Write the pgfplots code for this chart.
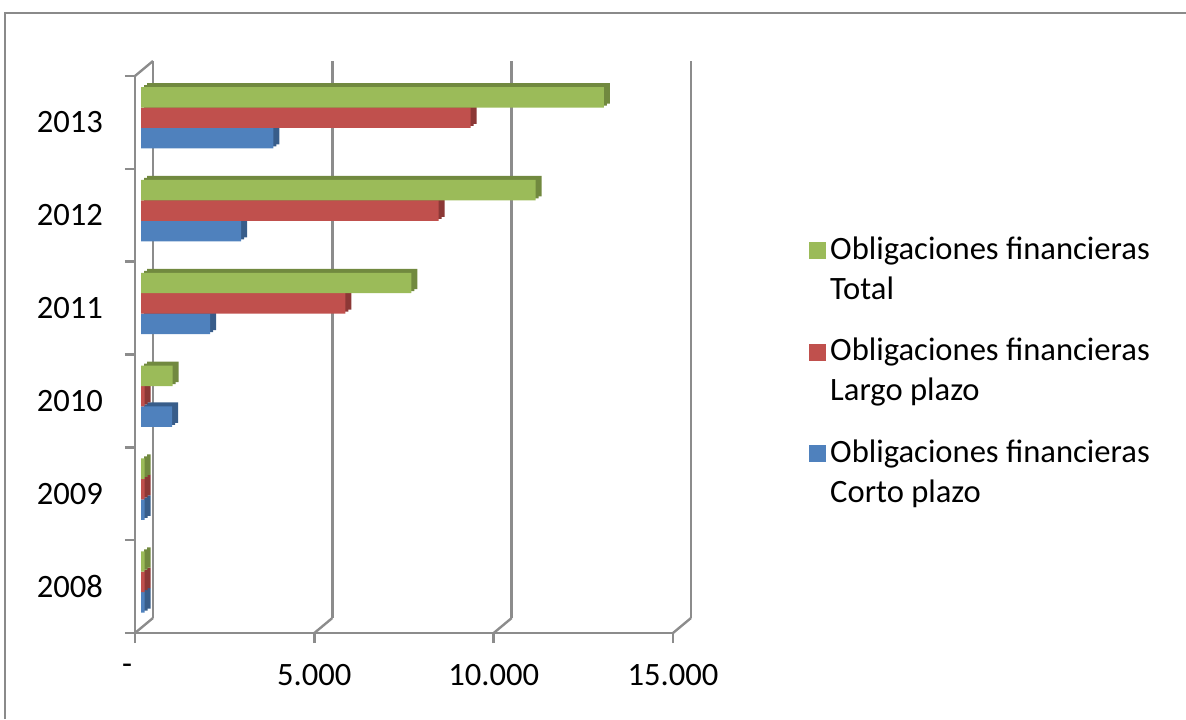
\documentclass[border=0pt]{standalone}
\usepackage{fontspec}
\setmainfont{Carlito}
\usepackage{pgfplots}
\usepackage{pgfplotstable}
\pgfplotsset{compat=1.18}
\definecolor{gG}{HTML}{9BBB59}
\definecolor{gGd}{HTML}{71893F}
\definecolor{rR}{HTML}{C0504D}
\definecolor{rRd}{HTML}{8C3836}
\definecolor{bB}{HTML}{4F81BD}
\definecolor{bBd}{HTML}{385D8A}
\definecolor{gridc}{HTML}{8C8C8C}
\definecolor{framec}{HTML}{8A8A8A}
\pgfplotstableread{
year corto largo total
0 100 100 100
1 100 100 100
2 870 100 880
3 1930 5700 7540
4 2790 8300 11005
5 3690 9190 12905
}\data
\newcommand\fs{\fontsize{16.3}{20}\selectfont}
\begin{document}
\begin{tikzpicture}
\useasboundingbox (0pt,0pt) rectangle (593pt,359.5pt);
\draw[framec, line width=1.4pt] (2.5pt,0pt) -- (2.5pt,353pt) -- (593pt,353pt);
\begin{axis}[
  at={(67.5pt,43pt)}, anchor=south west,
  scale only axis, width=269pt, height=278.5pt,
  xmin=0, xmax=15000, ymin=-0.5, ymax=5.5,
  clip=false,
  xbar, bar width=0.22,
  axis lines=left,
  axis line style={-, gridc, line width=1.2pt},
  tick style={gridc, line width=1.2pt},
  tick align=outside,
  major tick length=5pt,
  scaled x ticks=false,
  xtick={0,5000,10000,15000},
  xticklabels={{-\kern8pt},5.000,10.000,15.000},
  xticklabel style={yshift=-7pt},
  ytick={-0.5,0.5,1.5,2.5,3.5,4.5,5.5},
  yticklabels={},
  extra y ticks={0,1,2,3,4,5},
  extra y tick labels={2008,2009,2010,2011,2012,2013},
  extra y tick style={major tick length=0pt, yticklabel style={xshift=-12.5pt}},
  xmajorgrids,
  major grid style={gridc, line width=1.2pt, xshift=9pt, yshift=7.5pt},
  tick label style={font=\fs},
  /pgf/number format/assume math mode=true,
  reverse legend,
  legend style={draw=none, fill=none, at={(1.2524,0.72)}, anchor=north west,
    inner sep=0pt, row sep=14pt, font=\fs,
    cells={anchor=west, align=left}},
  legend image code/.code={\fill[#1] (-7pt,5pt) rectangle (1.5pt,13.5pt);},
]
\addplot[fill=bBd, draw=none, bar shift=-0.17, xshift=6pt, yshift=2pt, forget plot] table[x=corto,y=year]{\data};
\addplot[fill=bBd, draw=none, bar shift=-0.17, xshift=4.5pt, yshift=1pt, forget plot] table[x=corto,y=year]{\data};
\addplot[fill=bB, draw=none, bar shift=-0.17, xshift=3pt] table[x=corto,y=year]{\data};
\addlegendentry{Obligaciones financieras\\Corto plazo}
\addplot[fill=rRd, draw=none, bar shift=0.05, xshift=6pt, yshift=2pt, forget plot] table[x=largo,y=year]{\data};
\addplot[fill=rRd, draw=none, bar shift=0.05, xshift=4.5pt, yshift=1pt, forget plot] table[x=largo,y=year]{\data};
\addplot[fill=rR, draw=none, bar shift=0.05, xshift=3pt] table[x=largo,y=year]{\data};
\addlegendentry{Obligaciones financieras\\Largo plazo}
\addplot[fill=gGd, draw=none, bar shift=0.27, xshift=6pt, yshift=2pt, forget plot] table[x=total,y=year]{\data};
\addplot[fill=gGd, draw=none, bar shift=0.27, xshift=4.5pt, yshift=1pt, forget plot] table[x=total,y=year]{\data};
\addplot[fill=gG, draw=none, bar shift=0.27, xshift=3pt] table[x=total,y=year]{\data};
\addlegendentry{Obligaciones financieras\\Total}
\draw[gridc, line width=1.2pt] (axis cs:0,5.5) -- ++(9pt,7.5pt);
\draw[gridc, line width=1.2pt] (axis cs:0,-0.5) -- ++(9pt,7.5pt);
\draw[gridc, line width=1.2pt] (axis cs:5000,-0.5) -- ++(9pt,7.5pt);
\draw[gridc, line width=1.2pt] (axis cs:10000,-0.5) -- ++(9pt,7.5pt);
\draw[gridc, line width=1.2pt] (axis cs:15000,-0.5) -- ++(9pt,7.5pt);
\end{axis}
\end{tikzpicture}
\end{document}
